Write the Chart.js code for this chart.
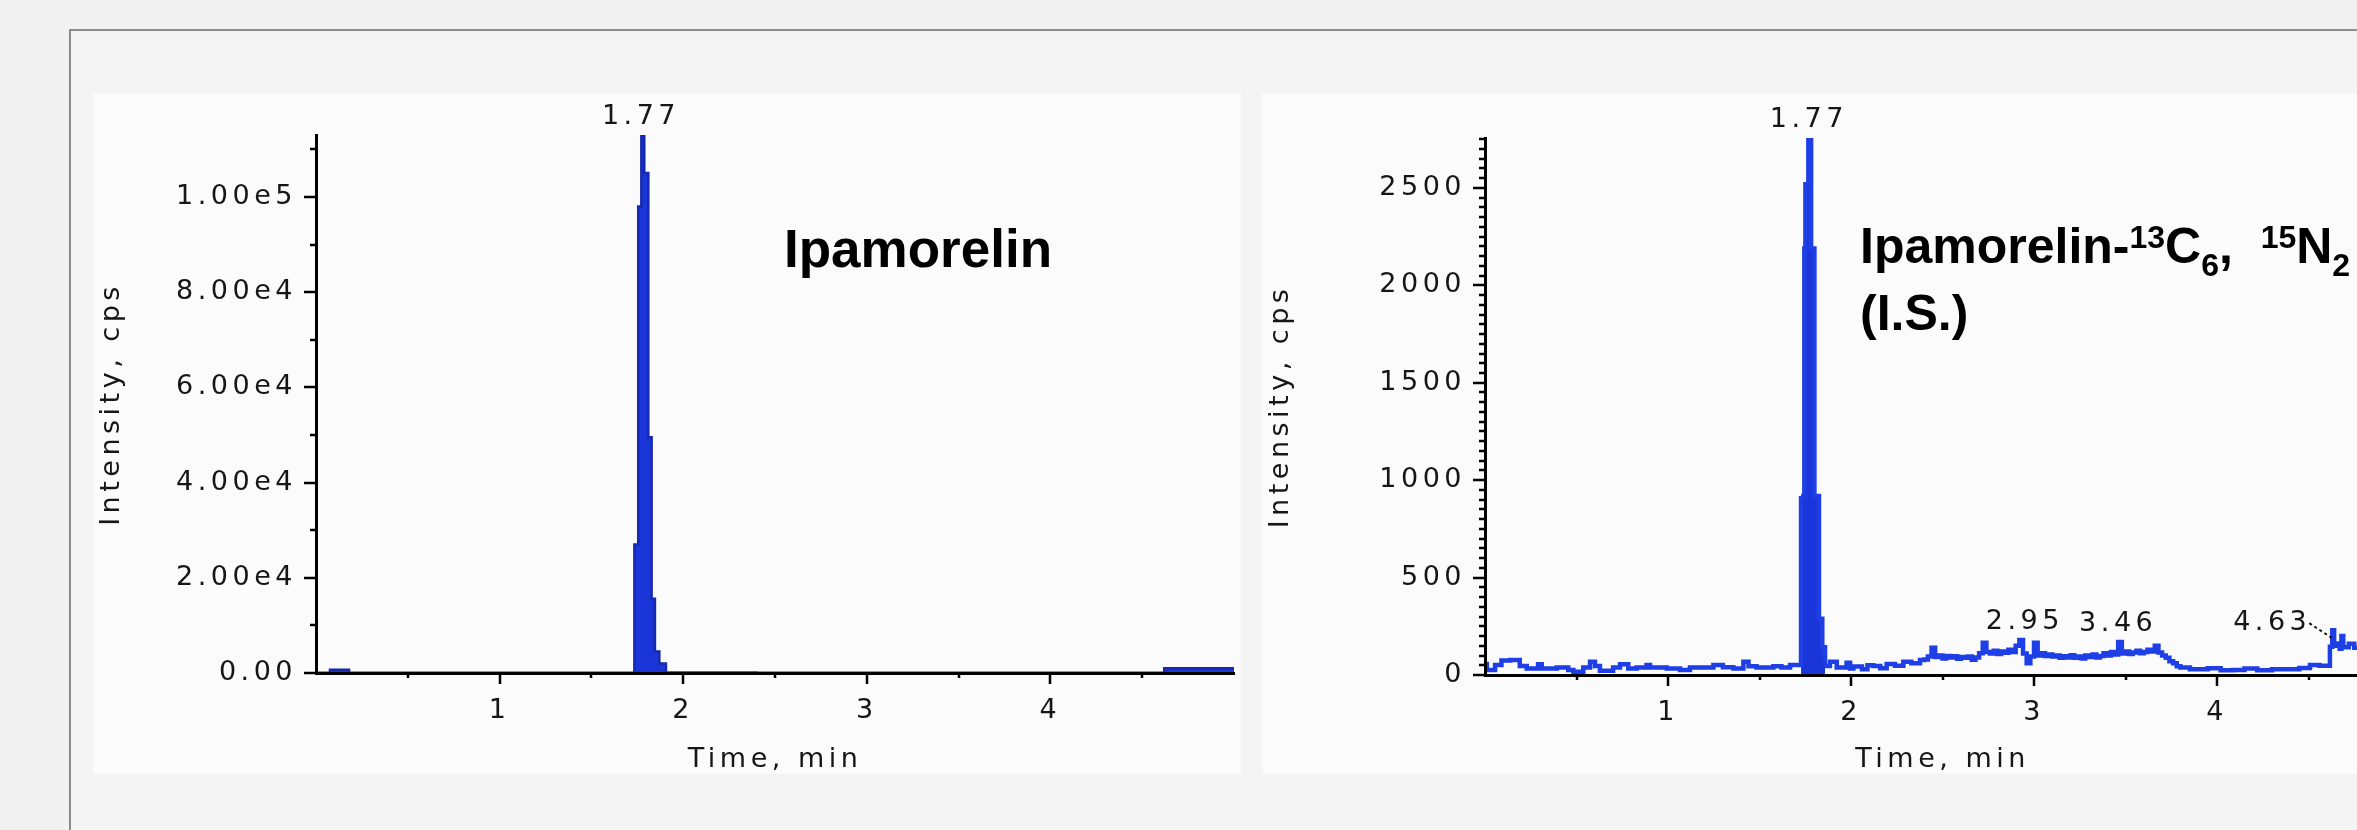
<!DOCTYPE html>
<html>
<head>
<meta charset="utf-8">
<script src="https://cdn.jsdelivr.net/npm/chart.js@4.4.0/dist/chart.umd.min.js"></script>
<style>
  html, body { margin: 0; padding: 0; width: 2357px; height: 830px; overflow: hidden; background: #f1f1f1; }
  #frame { position: absolute; left: 69px; top: 29px; width: 2400px; height: 900px; box-sizing: border-box;
           border: 2px solid #8c8c8c; background: #f4f4f4; }
  canvas { position: absolute; background: #fbfbfb; }
  #cL { left: 93px; top: 93px; }
  #cR { left: 1262px; top: 93px; }
</style>
</head>
<body>
<div id="frame"></div>
<canvas id="cL" width="1148" height="681"></canvas>
<canvas id="cR" width="1145" height="681"></canvas>
<script>
// ---------------- data ----------------
// Left panel: Ipamorelin XIC (step breakpoints: time in min, intensity in cps)
const leftTimes  = [0.000, 0.076, 0.180, 0.450, 0.900, 1.350, 1.734, 1.755, 1.772, 1.788, 1.810, 1.828, 1.846, 1.870, 1.906, 2.400, 3.000, 3.600, 4.200, 4.620, 5.000];
const leftValues = [60,    700,   60,    50,    50,    60,    27000, 98000, 113000, 105000, 49500, 15600, 4500,  2000,  80,    60,    50,    50,    60,    1000,  1000];
const leftYMax = 113000;
const leftYTicks = [0, 20000, 40000, 60000, 80000, 100000];

// Right panel: Ipamorelin-13C6,15N2 (I.S.) XIC
const rightTimes = [
  0.000, 0.010, 0.055, 0.090, 0.137, 0.190, 0.228, 0.290, 0.310, 0.392,
  0.455, 0.483, 0.537, 0.574, 0.601, 0.628, 0.700, 0.738, 0.783, 0.829,
  0.883, 0.902, 0.993, 1.066, 1.120, 1.248, 1.300, 1.357, 1.412, 1.440,
  1.484, 1.576, 1.620, 1.667, 1.727, 1.745, 1.751, 1.767, 1.782, 1.800,
  1.825, 1.843, 1.858, 1.885, 1.922, 1.976, 1.995, 2.013, 2.060, 2.090,
  2.122, 2.160, 2.195, 2.240, 2.286, 2.330, 2.377, 2.400, 2.420, 2.440,
  2.460, 2.480, 2.500, 2.520, 2.540, 2.560, 2.580, 2.600, 2.620, 2.640,
  2.660, 2.680, 2.700, 2.720, 2.740, 2.760, 2.780, 2.800, 2.820, 2.840,
  2.860, 2.880, 2.900, 2.920, 2.940, 2.960, 2.980, 3.000, 3.020, 3.040,
  3.060, 3.080, 3.100, 3.120, 3.140, 3.160, 3.180, 3.200, 3.220, 3.240,
  3.260, 3.280, 3.300, 3.320, 3.340, 3.360, 3.380, 3.400, 3.420, 3.440,
  3.460, 3.480, 3.500, 3.520, 3.540, 3.560, 3.580, 3.600, 3.620, 3.640,
  3.660, 3.680, 3.700, 3.720, 3.740, 3.760, 3.780, 3.800, 3.852, 3.950,
  4.020, 4.089, 4.150, 4.220, 4.300, 4.381, 4.450, 4.508, 4.560, 4.617,
  4.630, 4.640, 4.654, 4.670, 4.680, 4.690, 4.720, 4.750, 4.780, 4.820,
  4.860, 4.900, 4.950, 5.000
];
const rightValues = [
  56, 26, 51, 74, 77, 46, 34, 55, 34, 39,
  26, 17, 39, 68, 46, 22, 39, 55, 34, 39,
  51, 39, 34, 26, 39, 51, 40, 34, 68, 45,
  39, 45, 38, 51, 919, 2189, 2519, 2756, 2189, 919,
  289, 143, 46, 68, 39, 63, 34, 43, 30, 50,
  46, 35, 56, 48, 68, 60, 77, 80, 95, 140,
  92, 100, 85, 98, 90, 96, 84, 92, 88, 95,
  78, 90, 112, 165, 118, 110, 125, 108, 120, 114,
  130, 118, 150, 180, 110, 60, 95, 165, 100, 112,
  98, 105, 95, 100, 88, 96, 90, 102, 88, 95,
  85, 100, 92, 105, 90, 98, 112, 100, 118, 105,
  170, 110, 120, 108, 115, 125, 112, 118, 130, 120,
  150, 115, 100, 88, 70, 60, 45, 39, 29, 35,
  25, 26, 33, 24, 30, 29, 36, 51, 48, 145,
  230, 150, 162, 135, 200, 142, 160, 140, 155, 145,
  160, 150, 155, 150
];
const rightYMax = 2756;
const rightYTicks = [0, 500, 1000, 1500, 2000, 2500];

// Peak labels (retention times) and their apex intensities
const leftPeakTimes  = [1.77];
const leftPeakApex   = [113000];
const rightPeakTimes = [1.77, 2.95, 3.46, 4.63];
const rightPeakApex  = [2756, 180, 170, 230];
const rightLeaderPeaks = [4.63];

// Axis ticks / texts
const xTickLabels = [1, 2, 3, 4];
const leftTitleText  = [[['Ipamorelin', 'n']]];
const rightTitleText = [
  [['Ipamorelin-', 'n'], ['13', 'sup'], ['C', 'n'], ['6', 'sub'], [',  ', 'n'], ['15', 'sup'], ['N', 'n'], ['2', 'sub']],
  [['(I.S.)', 'n']]
];
const yTitle = 'Intensity, cps';
const xTitle = 'Time, min';

// ---------------- styling ----------------
const FAMILY = "'DejaVu Sans', sans-serif";
const FONT = { family: FAMILY, size: 27 };
const INK = '#161616';
const SPACING = '4.5px';

const spacingPlugin = { id: 'letterSpacing', beforeDraw(chart) { chart.ctx.letterSpacing = SPACING; } };

function ticksPlugin(yMajorStep, yMinorStep) {
  return {
    id: 'manualTicks',
    afterDraw(chart) {
      const { ctx, chartArea: a, scales: { x, y } } = chart;
      ctx.save();
      ctx.strokeStyle = '#000';
      ctx.lineWidth = 2.5;
      ctx.beginPath();
      for (let v = 0.5; v < 5 - 1e-9; v += 0.5) {
        const px = Math.round(x.getPixelForValue(v));
        const major = Math.abs(v - Math.round(v)) < 1e-6;
        ctx.moveTo(px, a.bottom);
        ctx.lineTo(px, a.bottom + (major ? 11 : 5));
      }
      for (let v = 0; v <= y.max + 1e-9; v += yMinorStep) {
        const py = Math.round(y.getPixelForValue(v));
        const r = v / yMajorStep;
        const major = Math.abs(r - Math.round(r)) < 1e-6;
        ctx.moveTo(a.left - (major ? 12 : 6), py);
        ctx.lineTo(a.left, py);
      }
      ctx.stroke();
      ctx.restore();
    }
  };
}

function peakPlugin(times, apex, leaders) {
  return {
    id: 'peakLabels',
    afterDatasetsDraw(chart) {
      const { ctx, scales: { x, y } } = chart;
      ctx.save();
      ctx.font = '27px ' + FAMILY;
      ctx.letterSpacing = SPACING;
      ctx.fillStyle = INK;
      ctx.textBaseline = 'alphabetic';
      times.forEach((t, i) => {
        const px = x.getPixelForValue(t);
        const py = y.getPixelForValue(apex[i]);
        const label = t.toFixed(2);
        if (leaders.includes(t)) {
          ctx.textAlign = 'right';
          ctx.fillText(label, px - 21, py);
          ctx.strokeStyle = INK;
          ctx.lineWidth = 2;
          ctx.setLineDash([3, 3]);
          ctx.beginPath();
          ctx.moveTo(px - 23, py - 7);
          ctx.lineTo(px, py + 8);
          ctx.stroke();
          ctx.setLineDash([]);
        } else {
          ctx.textAlign = 'center';
          ctx.fillText(label, px, py - 11);
        }
      });
      ctx.restore();
    }
  };
}

function titlePlugin(lines, t) {
  return {
    id: 'compoundTitle',
    afterDraw(chart) {
      const { ctx, chartArea } = chart;
      ctx.save();
      ctx.letterSpacing = '0px';
      ctx.fillStyle = '#000';
      ctx.textAlign = 'left';
      ctx.textBaseline = 'alphabetic';
      lines.forEach((runs, li) => {
        let xx = chartArea.left + t.dx;
        const base = chartArea.top + t.dy + li * t.lineGap;
        runs.forEach(([text, kind]) => {
          const size = kind === 'n' ? t.size : t.smallSize;
          const off = kind === 'sup' ? -t.supShift : (kind === 'sub' ? t.subShift : 0);
          ctx.font = 'bold ' + size + "px 'Liberation Sans', Arial, sans-serif";
          ctx.fillText(text, xx, base + off);
          xx += ctx.measureText(text).width;
        });
      });
      ctx.restore();
    }
  };
}

function makeOptions(cfg) {
  const hiddenGrid = { display: true, drawOnChartArea: false, drawTicks: true, tickLength: 11, color: 'rgba(0,0,0,0)' };
  const axisLine = { display: true, color: '#000', width: 3, z: 1 };
  return {
    responsive: false,
    animation: false,
    events: [],
    layout: { padding: { top: cfg.padTop, right: 7, bottom: 0, left: 0 } },
    plugins: { legend: { display: false }, tooltip: { enabled: false } },
    scales: {
      x: {
        type: 'linear', min: 0, max: 5,
        afterFit(s) { s.height = cfg.xHeight; },
        afterBuildTicks(s) { s.ticks = xTickLabels.map(v => ({ value: v })); },
        grid: hiddenGrid, border: axisLine,
        ticks: {
          autoSkip: false, maxRotation: 0, padding: 11, color: INK, font: FONT,
          callback: v => String(v)
        },
        title: { display: true, text: xTitle, color: INK, font: FONT, padding: { top: 0, bottom: -2 } }
      },
      y: {
        type: 'linear', min: 0, max: cfg.yMax,
        afterFit(s) { s.width = 223; },
        afterBuildTicks(s) { s.ticks = cfg.yTicks.map(v => ({ value: v })); },
        grid: hiddenGrid, border: axisLine,
        ticks: {
          autoSkip: false, padding: 8, color: INK, font: FONT,
          callback: cfg.fmt
        },
        title: { display: true, text: yTitle, color: INK, font: FONT, padding: { top: 3, bottom: 0 } }
      }
    }
  };
}

const PEAK_FILL = '#1a36d8';

new Chart(document.getElementById('cL'), {
  type: 'line',
  data: {
    datasets: [{
      data: leftTimes.map((t, i) => ({ x: t, y: leftValues[i] })),
      stepped: true,
      borderColor: '#1629b0',
      borderWidth: 2.5,
      backgroundColor: PEAK_FILL,
      fill: 'origin',
      pointRadius: 0
    }]
  },
  options: makeOptions({
    padTop: 42, xHeight: 101, yMax: leftYMax, yTicks: leftYTicks,
    fmt: v => v === 0 ? '0.00' : v.toExponential(2).replace('e+', 'e')
  }),
  plugins: [spacingPlugin, ticksPlugin(20000, 10000), peakPlugin(leftPeakTimes, leftPeakApex, []),
            titlePlugin(leftTitleText, { dx: 468, dy: 132, lineGap: 67, size: 53, smallSize: 32, supShift: 15, subShift: 13 })]
});

new Chart(document.getElementById('cR'), {
  type: 'line',
  data: {
    datasets: [{
      data: rightTimes.map((t, i) => ({ x: t, y: rightValues[i] })),
      stepped: true,
      borderColor: '#1e3ee6',
      borderWidth: 4.5,
      backgroundColor: 'rgba(0,0,0,0)',
      fill: 'origin',
      segment: {
        backgroundColor: c => (c.p0.parsed.x >= 1.72 && c.p1.parsed.x <= 1.87) ? PEAK_FILL : 'rgba(0,0,0,0)'
      },
      pointRadius: 0
    }]
  },
  options: makeOptions({
    padTop: 45, xHeight: 99, yMax: rightYMax, yTicks: rightYTicks,
    fmt: v => String(v)
  }),
  plugins: [spacingPlugin, ticksPlugin(500, 50), peakPlugin(rightPeakTimes, rightPeakApex, rightLeaderPeaks),
            titlePlugin(rightTitleText, { dx: 375, dy: 125, lineGap: 67, size: 50, smallSize: 32, supShift: 15, subShift: 13 })]
});
</script>
</body>
</html>
